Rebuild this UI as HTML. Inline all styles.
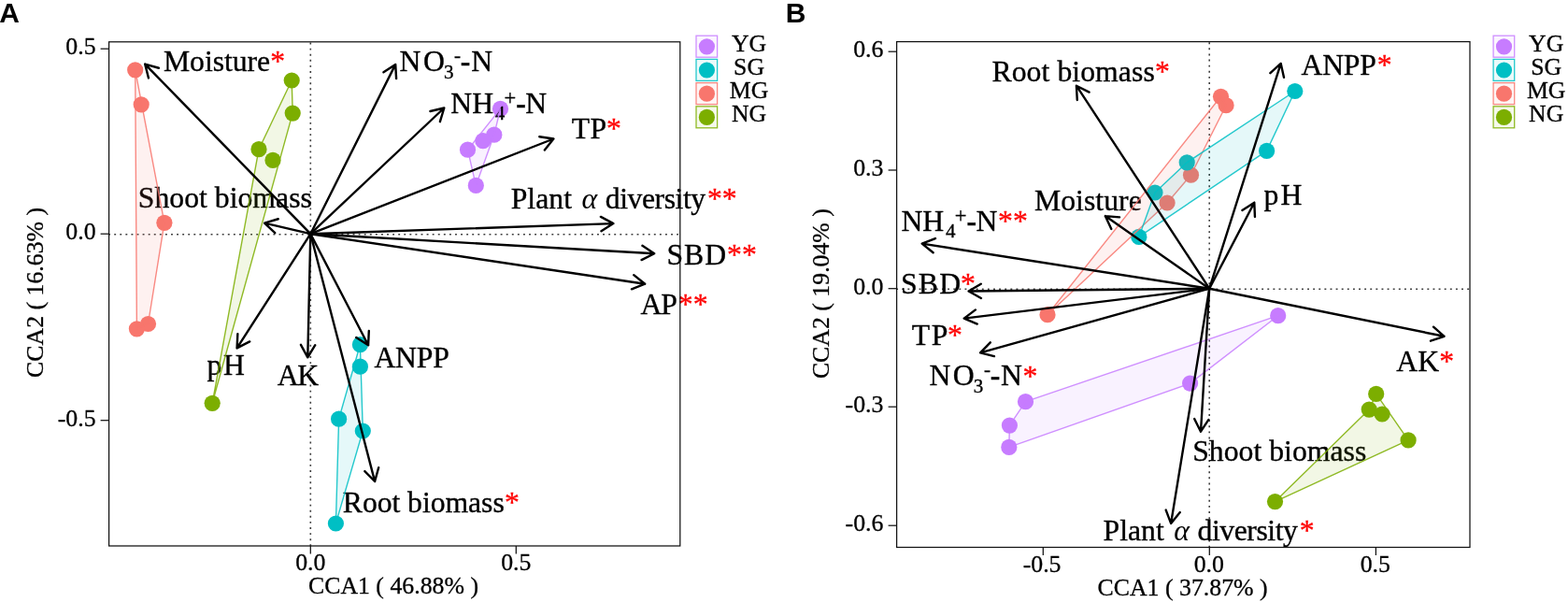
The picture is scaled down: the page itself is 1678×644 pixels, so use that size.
<!DOCTYPE html>
<html><head><meta charset="utf-8"><title>CCA biplots</title>
<style>html,body{margin:0;padding:0;background:#fff;}svg{display:block;}</style>
</head><body>
<svg width="1678" height="644" viewBox="0 0 1678 644">
<rect width="1678" height="644" fill="#fff"/>
<text x="-0.75" y="23.8" font-size="30.0" font-family="'Liberation Sans', Arial, sans-serif" fill="#000" font-weight="bold">A</text>
<line x1="332.3" y1="44.8" x2="332.3" y2="584" stroke="#3c3c3c" stroke-width="1.6" stroke-dasharray="1.9 4.2" stroke-dashoffset="5.35"/>
<line x1="116.6" y1="250.7" x2="727.8" y2="250.7" stroke="#3c3c3c" stroke-width="1.6" stroke-dasharray="1.9 4.18" stroke-dashoffset="0.46"/>
<circle cx="535.5" cy="116.4" r="8.6" fill="#C77CFF"/>
<circle cx="528.8" cy="144.2" r="8.6" fill="#C77CFF"/>
<circle cx="516.9" cy="150.7" r="8.6" fill="#C77CFF"/>
<circle cx="500.5" cy="160.2" r="8.6" fill="#C77CFF"/>
<circle cx="509.3" cy="198.4" r="8.6" fill="#C77CFF"/>
<circle cx="385.4" cy="368.7" r="8.6" fill="#00BFC4"/>
<circle cx="385.4" cy="392.2" r="8.6" fill="#00BFC4"/>
<circle cx="362.6" cy="448.2" r="8.6" fill="#00BFC4"/>
<circle cx="388.3" cy="461" r="8.6" fill="#00BFC4"/>
<circle cx="359.4" cy="560" r="8.6" fill="#00BFC4"/>
<circle cx="144.7" cy="74.8" r="8.6" fill="#F8766D"/>
<circle cx="151.2" cy="111.8" r="8.6" fill="#F8766D"/>
<circle cx="175.9" cy="238.3" r="8.6" fill="#F8766D"/>
<circle cx="158.5" cy="346.5" r="8.6" fill="#F8766D"/>
<circle cx="146.4" cy="351.8" r="8.6" fill="#F8766D"/>
<circle cx="312.2" cy="86" r="8.6" fill="#7CAE00"/>
<circle cx="313.2" cy="121.1" r="8.6" fill="#7CAE00"/>
<circle cx="277" cy="159.7" r="8.6" fill="#7CAE00"/>
<circle cx="292" cy="171.4" r="8.6" fill="#7CAE00"/>
<circle cx="227.2" cy="431.3" r="8.6" fill="#7CAE00"/>
<text x="174.99" y="75.7" font-size="31.7" font-family="'Liberation Serif', 'Times New Roman', serif" fill="#000" stroke="#000" stroke-width="0.35" textLength="114.11" lengthAdjust="spacing">Moisture</text>
<text x="289.25" y="75.7" font-size="31.7" font-family="'Liberation Serif', 'Times New Roman', serif" fill="#FF0000" stroke="#FF0000" stroke-width="0.35">*</text>
<text x="427.59" y="76.2" font-size="31.7" font-family="'Liberation Serif', 'Times New Roman', serif" fill="#000" stroke="#000" stroke-width="0.35" textLength="48.21" lengthAdjust="spacing">NO</text>
<text x="474.9" y="83.5" font-size="21.0" font-family="'Liberation Serif', 'Times New Roman', serif" fill="#000" stroke="#000" stroke-width="0.35">3</text>
<text x="486.12" y="66.1" font-size="21.0" font-family="'Liberation Serif', 'Times New Roman', serif" fill="#000" stroke="#000" stroke-width="0.35">-</text>
<text x="492.84" y="75.6" font-size="31.7" font-family="'Liberation Serif', 'Times New Roman', serif" fill="#000" stroke="#000" stroke-width="0.35" font-weight="bold">-</text>
<text x="504.19" y="76.2" font-size="31.7" font-family="'Liberation Serif', 'Times New Roman', serif" fill="#000" stroke="#000" stroke-width="0.35">N</text>
<text x="482.29" y="121.1" font-size="31.7" font-family="'Liberation Serif', 'Times New Roman', serif" fill="#000" stroke="#000" stroke-width="0.35">NH</text>
<text x="529.79" y="128.4" font-size="21.0" font-family="'Liberation Serif', 'Times New Roman', serif" fill="#000" stroke="#000" stroke-width="0.35">4</text>
<text x="539.58" y="112" font-size="22.5" font-family="'Liberation Serif', 'Times New Roman', serif" fill="#000" stroke="#000" stroke-width="0.35">+</text>
<text x="552.34" y="120.8" font-size="31.7" font-family="'Liberation Serif', 'Times New Roman', serif" fill="#000" stroke="#000" stroke-width="0.35" font-weight="bold">-</text>
<text x="562.29" y="121.1" font-size="31.7" font-family="'Liberation Serif', 'Times New Roman', serif" fill="#000" stroke="#000" stroke-width="0.35">N</text>
<text x="611.73" y="147.5" font-size="31.7" font-family="'Liberation Serif', 'Times New Roman', serif" fill="#000" stroke="#000" stroke-width="0.35" textLength="37.34" lengthAdjust="spacing">TP</text>
<text x="648.95" y="147.5" font-size="31.7" font-family="'Liberation Serif', 'Times New Roman', serif" fill="#FF0000" stroke="#FF0000" stroke-width="0.35">*</text>
<text x="546.69" y="223.4" font-size="31.7" font-family="'Liberation Serif', 'Times New Roman', serif" fill="#000" stroke="#000" stroke-width="0.35" textLength="65.3" lengthAdjust="spacing">Plant</text>
<text x="622.56" y="223.4" font-size="31.7" font-family="'Liberation Serif', 'Times New Roman', serif" font-style="italic">α</text>
<text x="647.75" y="223.4" font-size="31.7" font-family="'Liberation Serif', 'Times New Roman', serif" fill="#000" stroke="#000" stroke-width="0.35" textLength="107.37" lengthAdjust="spacing">diversity</text>
<text x="756.95" y="223.4" font-size="31.7" font-family="'Liberation Serif', 'Times New Roman', serif" fill="#FF0000" stroke="#FF0000" stroke-width="0.35">**</text>
<text x="713.58" y="282.6" font-size="31.7" font-family="'Liberation Serif', 'Times New Roman', serif" fill="#000" stroke="#000" stroke-width="0.35" textLength="63.49" lengthAdjust="spacing">SBD</text>
<text x="778.05" y="282.6" font-size="31.7" font-family="'Liberation Serif', 'Times New Roman', serif" fill="#FF0000" stroke="#FF0000" stroke-width="0.35">**</text>
<text x="685.59" y="336" font-size="31.7" font-family="'Liberation Serif', 'Times New Roman', serif" fill="#000" stroke="#000" stroke-width="0.35" textLength="39.38" lengthAdjust="spacing">AP</text>
<text x="725.85" y="336" font-size="31.7" font-family="'Liberation Serif', 'Times New Roman', serif" fill="#FF0000" stroke="#FF0000" stroke-width="0.35">**</text>
<text x="147.78" y="221.6" font-size="31.7" font-family="'Liberation Serif', 'Times New Roman', serif" fill="#000" stroke="#000" stroke-width="0.35" textLength="186.07" lengthAdjust="spacing">Shoot biomass</text>
<text x="221.39" y="400.8" font-size="31.7" font-family="'Liberation Serif', 'Times New Roman', serif" fill="#000" stroke="#000" stroke-width="0.35" textLength="40.54" lengthAdjust="spacing">pH</text>
<text x="296.69" y="411.7" font-size="31.7" font-family="'Liberation Serif', 'Times New Roman', serif" fill="#000" stroke="#000" stroke-width="0.35" textLength="44.53" lengthAdjust="spacing">AK</text>
<text x="400.39" y="393.3" font-size="31.7" font-family="'Liberation Serif', 'Times New Roman', serif" fill="#000" stroke="#000" stroke-width="0.35" textLength="80.48" lengthAdjust="spacing">ANPP</text>
<text x="366.79" y="547.7" font-size="31.7" font-family="'Liberation Serif', 'Times New Roman', serif" fill="#000" stroke="#000" stroke-width="0.35" textLength="172.96" lengthAdjust="spacing">Root biomass</text>
<text x="540.05" y="547.7" font-size="31.7" font-family="'Liberation Serif', 'Times New Roman', serif" fill="#FF0000" stroke="#FF0000" stroke-width="0.35">*</text>
<polygon points="535.5,116.4 528.8,144.2 509.3,198.4 500.5,160.2" fill="#C77CFF" fill-opacity="0.1" stroke="#C77CFF" stroke-opacity="0.85" stroke-width="1.4" stroke-linejoin="round"/>
<polygon points="385.4,368.7 388.3,461 359.4,560 362.6,448.2" fill="#00BFC4" fill-opacity="0.1" stroke="#00BFC4" stroke-opacity="0.85" stroke-width="1.4" stroke-linejoin="round"/>
<polygon points="144.7,74.8 175.9,238.3 158.5,346.5 146.4,351.8" fill="#F8766D" fill-opacity="0.1" stroke="#F8766D" stroke-opacity="0.85" stroke-width="1.4" stroke-linejoin="round"/>
<polygon points="312.2,86 313.2,121.1 227.2,431.3 277,159.7" fill="#7CAE00" fill-opacity="0.1" stroke="#7CAE00" stroke-opacity="0.85" stroke-width="1.4" stroke-linejoin="round"/>
<g stroke="#000" stroke-width="2.4" fill="none" stroke-linecap="round" stroke-linejoin="round">
<path d="M332.3,250.2L155.2,68.6M169.93,72.75L155.2,68.6L158.97,83.43" />
<path d="M332.3,250.2L423.2,68.9M424.1,84.17L423.2,68.9L410.42,77.32" />
<path d="M332.3,250.2L475.3,115.5M470.9,130.15L475.3,115.5L460.41,119.02" />
<path d="M332.3,250.2L592.4,148.5M582.85,160.45L592.4,148.5L577.27,146.2" />
<path d="M332.3,250.2L656.4,239.1M643.42,247.2L656.4,239.1L642.9,231.91" />
<path d="M332.3,250.2L700.2,271.2M686.54,278.08L700.2,271.2L687.41,262.81" />
<path d="M332.3,250.2L690.2,303.7M675.96,309.31L690.2,303.7L678.23,294.18" />
<path d="M332.3,250.2L283.1,238.7M297.74,234.27L283.1,238.7L294.26,249.17" />
<path d="M332.3,250.2L253.6,372.4M254.34,357.12L253.6,372.4L267.21,365.4" />
<path d="M332.3,250.2L329.3,382.3M321.95,368.88L329.3,382.3L337.25,369.23" />
<path d="M332.3,250.2L394.1,369.3M381.21,361.06L394.1,369.3L394.79,354.02" />
<path d="M332.3,250.2L401.1,515M390.36,504.1L401.1,515L405.17,500.25" />
</g>
<rect x="116.6" y="44.8" width="611.2" height="539.2" fill="none" stroke="#111" stroke-width="1.25"/>
<line x1="107.6" y1="52.2" x2="116.6" y2="52.2" stroke="#111" stroke-width="1.25"/>
<text x="102.6" y="58.4" font-size="25.8" font-family="'Liberation Serif', 'Times New Roman', serif" stroke="#000" stroke-width="0.3" text-anchor="end">0.5</text>
<line x1="107.6" y1="250.2" x2="116.6" y2="250.2" stroke="#111" stroke-width="1.25"/>
<text x="102.6" y="256.4" font-size="25.8" font-family="'Liberation Serif', 'Times New Roman', serif" stroke="#000" stroke-width="0.3" text-anchor="end">0.0</text>
<line x1="107.6" y1="449.7" x2="116.6" y2="449.7" stroke="#111" stroke-width="1.25"/>
<text x="102.6" y="455.9" font-size="25.8" font-family="'Liberation Serif', 'Times New Roman', serif" stroke="#000" stroke-width="0.3" text-anchor="end">-0.5</text>
<line x1="332.3" y1="584" x2="332.3" y2="592.5" stroke="#111" stroke-width="1.25"/>
<text x="332.3" y="610" font-size="25.8" font-family="'Liberation Serif', 'Times New Roman', serif" stroke="#000" stroke-width="0.3" text-anchor="middle">0.0</text>
<line x1="552.3" y1="584" x2="552.3" y2="592.5" stroke="#111" stroke-width="1.25"/>
<text x="552.3" y="610" font-size="25.8" font-family="'Liberation Serif', 'Times New Roman', serif" stroke="#000" stroke-width="0.3" text-anchor="middle">0.5</text>
<text x="421.0" y="634.6" font-size="25.8" font-family="'Liberation Serif', 'Times New Roman', serif" stroke="#000" stroke-width="0.3" text-anchor="middle">CCA1 ( 46.88% )</text>
<text transform="translate(46.1,312.9) rotate(-90)" font-size="25.8" font-family="'Liberation Serif', 'Times New Roman', serif" stroke="#000" stroke-width="0.3" text-anchor="middle">CCA2 ( 16.63% )</text>
<rect x="745" y="38.2" width="22.6" height="23.0" fill="#C77CFF" fill-opacity="0.08" stroke="#C77CFF" stroke-opacity="0.85" stroke-width="1.3"/>
<circle cx="756.4" cy="49.8" r="8.6" fill="#C77CFF"/>
<text x="801.6" y="54.8" font-size="25.8" font-family="'Liberation Serif', 'Times New Roman', serif" stroke="#000" stroke-width="0.3" text-anchor="middle">YG</text>
<rect x="745" y="63.4" width="22.6" height="23.0" fill="#00BFC4" fill-opacity="0.08" stroke="#00BFC4" stroke-opacity="0.85" stroke-width="1.3"/>
<circle cx="756.4" cy="75" r="8.6" fill="#00BFC4"/>
<text x="801.6" y="80" font-size="25.8" font-family="'Liberation Serif', 'Times New Roman', serif" stroke="#000" stroke-width="0.3" text-anchor="middle">SG</text>
<rect x="745" y="88.6" width="22.6" height="23.0" fill="#F8766D" fill-opacity="0.08" stroke="#F8766D" stroke-opacity="0.85" stroke-width="1.3"/>
<circle cx="756.4" cy="100.2" r="8.6" fill="#F8766D"/>
<text x="801.6" y="105.2" font-size="25.8" font-family="'Liberation Serif', 'Times New Roman', serif" stroke="#000" stroke-width="0.3" text-anchor="middle">MG</text>
<rect x="745" y="113.8" width="22.6" height="23.0" fill="#7CAE00" fill-opacity="0.08" stroke="#7CAE00" stroke-opacity="0.85" stroke-width="1.3"/>
<circle cx="756.4" cy="125.4" r="8.6" fill="#7CAE00"/>
<text x="801.6" y="130.4" font-size="25.8" font-family="'Liberation Serif', 'Times New Roman', serif" stroke="#000" stroke-width="0.3" text-anchor="middle">NG</text>
<text x="840.79" y="23.9" font-size="30.0" font-family="'Liberation Sans', Arial, sans-serif" fill="#000" font-weight="bold">B</text>
<line x1="1294.2" y1="44.6" x2="1294.2" y2="585.5" stroke="#3c3c3c" stroke-width="1.6" stroke-dasharray="1.9 4.22" stroke-dashoffset="5.48"/>
<line x1="959.6" y1="309.2" x2="1573" y2="309.2" stroke="#3c3c3c" stroke-width="1.6" stroke-dasharray="1.9 4.21" stroke-dashoffset="0.45"/>
<circle cx="1367.7" cy="337.7" r="8.6" fill="#C77CFF"/>
<circle cx="1273.6" cy="410.1" r="8.6" fill="#C77CFF"/>
<circle cx="1097.5" cy="429.7" r="8.6" fill="#C77CFF"/>
<circle cx="1080.4" cy="455.1" r="8.6" fill="#C77CFF"/>
<circle cx="1079.8" cy="478.4" r="8.6" fill="#C77CFF"/>
<circle cx="1306.5" cy="103.3" r="8.6" fill="#F8766D"/>
<circle cx="1312.1" cy="112.7" r="8.6" fill="#F8766D"/>
<circle cx="1274.5" cy="187.2" r="8.6" fill="#F8766D"/>
<circle cx="1249.1" cy="217" r="8.6" fill="#F8766D"/>
<circle cx="1121" cy="336.7" r="8.6" fill="#F8766D"/>
<circle cx="1385.8" cy="97.5" r="8.6" fill="#00BFC4"/>
<circle cx="1355.6" cy="161.4" r="8.6" fill="#00BFC4"/>
<circle cx="1270.2" cy="173.8" r="8.6" fill="#00BFC4"/>
<circle cx="1236" cy="206" r="8.6" fill="#00BFC4"/>
<circle cx="1218.8" cy="253.4" r="8.6" fill="#00BFC4"/>
<circle cx="1472.7" cy="421.4" r="8.6" fill="#7CAE00"/>
<circle cx="1465.2" cy="438.1" r="8.6" fill="#7CAE00"/>
<circle cx="1479.1" cy="443" r="8.6" fill="#7CAE00"/>
<circle cx="1507.1" cy="470.9" r="8.6" fill="#7CAE00"/>
<circle cx="1364.5" cy="536.6" r="8.6" fill="#7CAE00"/>
<text x="1061.49" y="86.7" font-size="31.7" font-family="'Liberation Serif', 'Times New Roman', serif" fill="#000" stroke="#000" stroke-width="0.35" textLength="174.26" lengthAdjust="spacing">Root biomass</text>
<text x="1236.05" y="86.7" font-size="31.7" font-family="'Liberation Serif', 'Times New Roman', serif" fill="#FF0000" stroke="#FF0000" stroke-width="0.35">*</text>
<text x="1392.49" y="79.5" font-size="31.7" font-family="'Liberation Serif', 'Times New Roman', serif" fill="#000" stroke="#000" stroke-width="0.35" textLength="80.38" lengthAdjust="spacing">ANPP</text>
<text x="1473.85" y="79.5" font-size="31.7" font-family="'Liberation Serif', 'Times New Roman', serif" fill="#FF0000" stroke="#FF0000" stroke-width="0.35">*</text>
<text x="1106.89" y="224.8" font-size="31.7" font-family="'Liberation Serif', 'Times New Roman', serif" fill="#000" stroke="#000" stroke-width="0.35" textLength="114.91" lengthAdjust="spacing">Moisture</text>
<text x="1352.39" y="218.8" font-size="31.7" font-family="'Liberation Serif', 'Times New Roman', serif" fill="#000" stroke="#000" stroke-width="0.35" textLength="40.94" lengthAdjust="spacing">pH</text>
<text x="964.39" y="246.9" font-size="31.7" font-family="'Liberation Serif', 'Times New Roman', serif" fill="#000" stroke="#000" stroke-width="0.35">NH</text>
<text x="1011.89" y="254.2" font-size="21.0" font-family="'Liberation Serif', 'Times New Roman', serif" fill="#000" stroke="#000" stroke-width="0.35">4</text>
<text x="1021.68" y="237.8" font-size="22.5" font-family="'Liberation Serif', 'Times New Roman', serif" fill="#000" stroke="#000" stroke-width="0.35">+</text>
<text x="1034.44" y="246.6" font-size="31.7" font-family="'Liberation Serif', 'Times New Roman', serif" fill="#000" stroke="#000" stroke-width="0.35" font-weight="bold">-</text>
<text x="1044.39" y="246.9" font-size="31.7" font-family="'Liberation Serif', 'Times New Roman', serif" fill="#000" stroke="#000" stroke-width="0.35">N</text>
<text x="1068.05" y="247.2" font-size="31.7" font-family="'Liberation Serif', 'Times New Roman', serif" fill="#FF0000" stroke="#FF0000" stroke-width="0.35">**</text>
<text x="964.08" y="314.1" font-size="31.7" font-family="'Liberation Serif', 'Times New Roman', serif" fill="#000" stroke="#000" stroke-width="0.35" textLength="63.99" lengthAdjust="spacing">SBD</text>
<text x="1028.05" y="314.1" font-size="31.7" font-family="'Liberation Serif', 'Times New Roman', serif" fill="#FF0000" stroke="#FF0000" stroke-width="0.35">*</text>
<text x="975.83" y="368.6" font-size="31.7" font-family="'Liberation Serif', 'Times New Roman', serif" fill="#000" stroke="#000" stroke-width="0.35" textLength="38.54" lengthAdjust="spacing">TP</text>
<text x="1013.95" y="368.6" font-size="31.7" font-family="'Liberation Serif', 'Times New Roman', serif" fill="#FF0000" stroke="#FF0000" stroke-width="0.35">*</text>
<text x="994.49" y="412.4" font-size="31.7" font-family="'Liberation Serif', 'Times New Roman', serif" fill="#000" stroke="#000" stroke-width="0.35" textLength="48.21" lengthAdjust="spacing">NO</text>
<text x="1041.8" y="419.7" font-size="21.0" font-family="'Liberation Serif', 'Times New Roman', serif" fill="#000" stroke="#000" stroke-width="0.35">3</text>
<text x="1053.02" y="402.3" font-size="21.0" font-family="'Liberation Serif', 'Times New Roman', serif" fill="#000" stroke="#000" stroke-width="0.35">-</text>
<text x="1059.74" y="411.8" font-size="31.7" font-family="'Liberation Serif', 'Times New Roman', serif" fill="#000" stroke="#000" stroke-width="0.35" font-weight="bold">-</text>
<text x="1071.09" y="412.4" font-size="31.7" font-family="'Liberation Serif', 'Times New Roman', serif" fill="#000" stroke="#000" stroke-width="0.35">N</text>
<text x="1094.45" y="412.7" font-size="31.7" font-family="'Liberation Serif', 'Times New Roman', serif" fill="#FF0000" stroke="#FF0000" stroke-width="0.35">*</text>
<text x="1494.19" y="396.6" font-size="31.7" font-family="'Liberation Serif', 'Times New Roman', serif" fill="#000" stroke="#000" stroke-width="0.35" textLength="45.93" lengthAdjust="spacing">AK</text>
<text x="1540.15" y="396.6" font-size="31.7" font-family="'Liberation Serif', 'Times New Roman', serif" fill="#FF0000" stroke="#FF0000" stroke-width="0.35">*</text>
<text x="1276.18" y="492.9" font-size="31.7" font-family="'Liberation Serif', 'Times New Roman', serif" fill="#000" stroke="#000" stroke-width="0.35" textLength="186.07" lengthAdjust="spacing">Shoot biomass</text>
<text x="1180.49" y="578.3" font-size="31.7" font-family="'Liberation Serif', 'Times New Roman', serif" fill="#000" stroke="#000" stroke-width="0.35" textLength="65.3" lengthAdjust="spacing">Plant</text>
<text x="1256.36" y="578.3" font-size="31.7" font-family="'Liberation Serif', 'Times New Roman', serif" font-style="italic">α</text>
<text x="1281.55" y="578.3" font-size="31.7" font-family="'Liberation Serif', 'Times New Roman', serif" fill="#000" stroke="#000" stroke-width="0.35" textLength="107.37" lengthAdjust="spacing">diversity</text>
<text x="1390.85" y="578.3" font-size="31.7" font-family="'Liberation Serif', 'Times New Roman', serif" fill="#FF0000" stroke="#FF0000" stroke-width="0.35">*</text>
<polygon points="1367.7,337.7 1273.6,410.1 1079.8,478.4 1080.4,455.1 1097.5,429.7" fill="#C77CFF" fill-opacity="0.1" stroke="#C77CFF" stroke-opacity="0.85" stroke-width="1.4" stroke-linejoin="round"/>
<polygon points="1306.5,103.3 1312.1,112.7 1274.5,187.2 1249.1,217 1121,336.7" fill="#F8766D" fill-opacity="0.1" stroke="#F8766D" stroke-opacity="0.85" stroke-width="1.4" stroke-linejoin="round"/>
<polygon points="1385.8,97.5 1355.6,161.4 1218.8,253.4 1236,206 1270.2,173.8" fill="#00BFC4" fill-opacity="0.1" stroke="#00BFC4" stroke-opacity="0.85" stroke-width="1.4" stroke-linejoin="round"/>
<polygon points="1472.7,421.4 1507.1,470.9 1364.5,536.6 1465.2,438.1" fill="#7CAE00" fill-opacity="0.1" stroke="#7CAE00" stroke-opacity="0.85" stroke-width="1.4" stroke-linejoin="round"/>
<g stroke="#000" stroke-width="2.4" fill="none" stroke-linecap="round" stroke-linejoin="round">
<path d="M1294.2,308.7L1151.9,91.7M1165.56,98.59L1151.9,91.7L1152.77,106.98" />
<path d="M1294.2,308.7L1370.7,67.9M1373.98,82.84L1370.7,67.9L1359.4,78.21" />
<path d="M1294.2,308.7L1182.8,231.1M1198.04,232.4L1182.8,231.1L1189.3,244.95" />
<path d="M1294.2,308.7L1342.3,216.7M1342.94,231.99L1342.3,216.7L1329.38,224.9" />
<path d="M1294.2,308.7L986.7,260.6M1000.97,255.09L986.7,260.6L998.61,270.21" />
<path d="M1294.2,308.7L1036.6,311.5M1049.77,303.71L1036.6,311.5L1049.93,319.01" />
<path d="M1294.2,308.7L1031.7,340.6M1043.93,331.41L1031.7,340.6L1045.78,346.6" />
<path d="M1294.2,308.7L1049.1,377.3M1059.8,366.36L1049.1,377.3L1063.92,381.1" />
<path d="M1294.2,308.7L1545.5,359.8M1530.99,364.66L1545.5,359.8L1534.04,349.66" />
<path d="M1294.2,308.7L1285,461.7M1278.16,448.01L1285,461.7L1293.43,448.93" />
<path d="M1294.2,308.7L1253.1,559.9M1247.69,545.59L1253.1,559.9L1262.79,548.06" />
</g>
<rect x="959.6" y="44.6" width="613.4" height="540.9" fill="none" stroke="#111" stroke-width="1.25"/>
<line x1="950.6" y1="55.2" x2="959.6" y2="55.2" stroke="#111" stroke-width="1.25"/>
<text x="945.4" y="61.4" font-size="25.8" font-family="'Liberation Serif', 'Times New Roman', serif" stroke="#000" stroke-width="0.3" text-anchor="end">0.6</text>
<line x1="950.6" y1="182" x2="959.6" y2="182" stroke="#111" stroke-width="1.25"/>
<text x="945.4" y="188.2" font-size="25.8" font-family="'Liberation Serif', 'Times New Roman', serif" stroke="#000" stroke-width="0.3" text-anchor="end">0.3</text>
<line x1="950.6" y1="308.7" x2="959.6" y2="308.7" stroke="#111" stroke-width="1.25"/>
<text x="945.4" y="314.9" font-size="25.8" font-family="'Liberation Serif', 'Times New Roman', serif" stroke="#000" stroke-width="0.3" text-anchor="end">0.0</text>
<line x1="950.6" y1="435.2" x2="959.6" y2="435.2" stroke="#111" stroke-width="1.25"/>
<text x="945.4" y="441.4" font-size="25.8" font-family="'Liberation Serif', 'Times New Roman', serif" stroke="#000" stroke-width="0.3" text-anchor="end">-0.3</text>
<line x1="950.6" y1="562.2" x2="959.6" y2="562.2" stroke="#111" stroke-width="1.25"/>
<text x="945.4" y="568.4" font-size="25.8" font-family="'Liberation Serif', 'Times New Roman', serif" stroke="#000" stroke-width="0.3" text-anchor="end">-0.6</text>
<line x1="1116.3" y1="585.5" x2="1116.3" y2="594" stroke="#111" stroke-width="1.25"/>
<text x="1115.1" y="611.5" font-size="25.8" font-family="'Liberation Serif', 'Times New Roman', serif" stroke="#000" stroke-width="0.3" text-anchor="middle">-0.5</text>
<line x1="1294.3" y1="585.5" x2="1294.3" y2="594" stroke="#111" stroke-width="1.25"/>
<text x="1293.85" y="611.5" font-size="25.8" font-family="'Liberation Serif', 'Times New Roman', serif" stroke="#000" stroke-width="0.3" text-anchor="middle">0.0</text>
<line x1="1472.4" y1="585.5" x2="1472.4" y2="594" stroke="#111" stroke-width="1.25"/>
<text x="1471.75" y="611.5" font-size="25.8" font-family="'Liberation Serif', 'Times New Roman', serif" stroke="#000" stroke-width="0.3" text-anchor="middle">0.5</text>
<text x="1265.6" y="636.8" font-size="25.8" font-family="'Liberation Serif', 'Times New Roman', serif" stroke="#000" stroke-width="0.3" text-anchor="middle">CCA1 ( 37.87% )</text>
<text transform="translate(887.2,314.1) rotate(-90)" font-size="25.8" font-family="'Liberation Serif', 'Times New Roman', serif" stroke="#000" stroke-width="0.3" text-anchor="middle">CCA2 ( 19.04% )</text>
<rect x="1598.1" y="38.2" width="22.6" height="23.0" fill="#C77CFF" fill-opacity="0.08" stroke="#C77CFF" stroke-opacity="0.85" stroke-width="1.3"/>
<circle cx="1609.5" cy="49.8" r="8.6" fill="#C77CFF"/>
<text x="1654.7" y="54.8" font-size="25.8" font-family="'Liberation Serif', 'Times New Roman', serif" stroke="#000" stroke-width="0.3" text-anchor="middle">YG</text>
<rect x="1598.1" y="63.4" width="22.6" height="23.0" fill="#00BFC4" fill-opacity="0.08" stroke="#00BFC4" stroke-opacity="0.85" stroke-width="1.3"/>
<circle cx="1609.5" cy="75" r="8.6" fill="#00BFC4"/>
<text x="1654.7" y="80" font-size="25.8" font-family="'Liberation Serif', 'Times New Roman', serif" stroke="#000" stroke-width="0.3" text-anchor="middle">SG</text>
<rect x="1598.1" y="88.6" width="22.6" height="23.0" fill="#F8766D" fill-opacity="0.08" stroke="#F8766D" stroke-opacity="0.85" stroke-width="1.3"/>
<circle cx="1609.5" cy="100.2" r="8.6" fill="#F8766D"/>
<text x="1654.7" y="105.2" font-size="25.8" font-family="'Liberation Serif', 'Times New Roman', serif" stroke="#000" stroke-width="0.3" text-anchor="middle">MG</text>
<rect x="1598.1" y="113.8" width="22.6" height="23.0" fill="#7CAE00" fill-opacity="0.08" stroke="#7CAE00" stroke-opacity="0.85" stroke-width="1.3"/>
<circle cx="1609.5" cy="125.4" r="8.6" fill="#7CAE00"/>
<text x="1654.7" y="130.4" font-size="25.8" font-family="'Liberation Serif', 'Times New Roman', serif" stroke="#000" stroke-width="0.3" text-anchor="middle">NG</text>
</svg>
</body></html>
